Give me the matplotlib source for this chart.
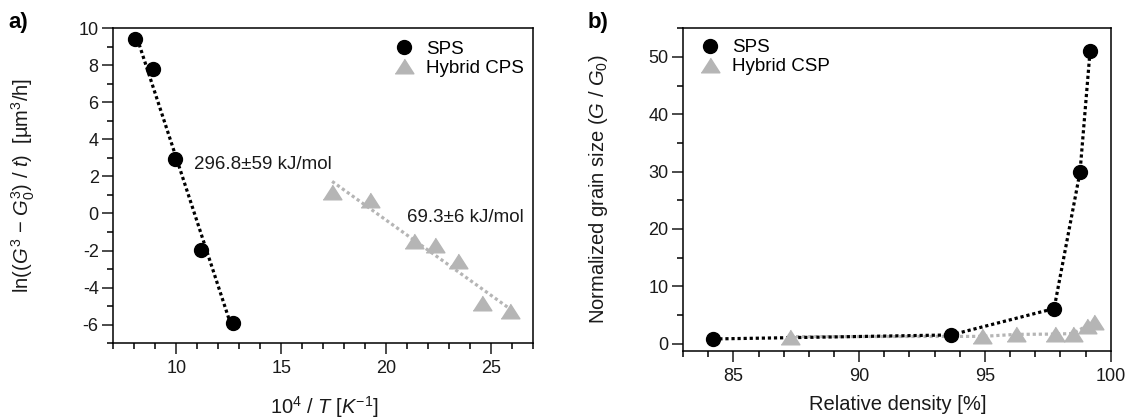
import numpy as np
import matplotlib
matplotlib.use("Agg")
import matplotlib.pyplot as plt
from matplotlib.ticker import MultipleLocator

plt.rcParams['font.family'] = ['Liberation Sans', 'DejaVu Sans']
plt.rcParams['mathtext.fontset'] = 'custom'
plt.rcParams['mathtext.rm'] = 'Liberation Sans'
plt.rcParams['mathtext.it'] = 'Liberation Sans:italic'
plt.rcParams['axes.linewidth'] = 1.1
plt.rcParams['axes.unicode_minus'] = False

# panel a: Arrhenius plot
sps_invT = [8.05, 8.90, 9.92, 11.19, 12.72]
sps_lnrate = [9.40, 7.80, 2.95, -1.98, -5.90]
cps_invT = [17.42, 19.22, 21.32, 22.30, 23.40, 24.55, 25.88]
cps_lnrate = [1.15, 0.70, -1.50, -1.68, -2.55, -4.85, -5.25]
ea_labels = ['296.8±59 kJ/mol', '69.3±6 kJ/mol']

# panel b: grain growth vs density
sps_dens = [84.2, 93.65, 97.75, 98.78, 99.18]
sps_grain = [0.8, 1.5, 6.1, 29.95, 51.1]
csp_dens = [87.25, 94.9, 96.25, 97.8, 98.5, 99.05, 99.35]
csp_grain = [1.2, 1.25, 1.6, 1.65, 1.75, 3.1, 3.7]

GREY = '#b5b5b5'
TXT = '#1a1a1a'
tri = [(-1, -0.78), (1, -0.78), (0, 0.78)]
dot = (0, (1.0, 0.9))

fig = plt.figure(figsize=(11.32, 4.2), dpi=100)
axa = fig.add_axes([0.1001, 0.1826, 0.3710, 0.7507])
axb = fig.add_axes([0.6034, 0.1643, 0.3778, 0.7683])

for ax in (axa, axb):
    ax.tick_params(which='major', direction='out', length=8, width=1.1,
                   labelsize=13, colors=TXT, pad=4)
    ax.tick_params(which='minor', direction='out', length=4, width=1.1)
    ax.tick_params(axis='y', which='major', pad=2.5)

# ---- a) ----
for xs, ys, col in [(sps_invT, sps_lnrate, 'black'), (cps_invT, cps_lnrate, GREY)]:
    k, b = np.polyfit(xs, ys, 1)
    xx = np.array([min(xs), max(xs)])
    axa.plot(xx, k * xx + b, color=col, lw=2.3, ls=dot, zorder=2)
axa.plot(sps_invT, sps_lnrate, 'o', color='black', ms=10, ls='none', label='SPS', zorder=3)
axa.plot(cps_invT, cps_lnrate, marker=tri, color=GREY, ms=13.5, ls='none',
         label='Hybrid CPS', zorder=3)
axa.text(10.86, 2.64, ea_labels[0], fontsize=13.5, va='center', color=TXT)
axa.text(20.97, -0.24, ea_labels[1], fontsize=13.5, va='center', color=TXT)
axa.set_xlim(7, 27)
axa.set_ylim(-7, 10)
axa.xaxis.set_major_locator(MultipleLocator(5))
axa.xaxis.set_minor_locator(MultipleLocator(1))
axa.yaxis.set_major_locator(MultipleLocator(2))
axa.yaxis.set_minor_locator(MultipleLocator(1))
axa.set_xlabel(r'10$^4$ / $T$ [$K^{-1}$]', fontsize=14.5, color=TXT)
axa.set_ylabel(r'ln(($G^3$ − $G_0^3$) / $t$)  [µm$^3$/h]', fontsize=14.5, color=TXT)
axa.xaxis.set_label_coords(0.502, -0.16)
axa.yaxis.set_label_coords(-0.182, 0.5)
axa.legend(loc='upper right', bbox_to_anchor=(1.0, 0.99), frameon=False, fontsize=13.5,
           handlelength=1.0, handletextpad=0.7, labelspacing=0.1, borderpad=0.4,
           borderaxespad=0.1)

# ---- b) ----
axb.plot(csp_dens, csp_grain, color=GREY, lw=2.3, ls=dot, zorder=2)
axb.plot(sps_dens, sps_grain, color='black', lw=2.3, ls=dot, zorder=2)
axb.plot(sps_dens, sps_grain, 'o', color='black', ms=10, ls='none', label='SPS', zorder=4)
axb.plot(csp_dens, csp_grain, marker=tri, color=GREY, ms=13.5, ls='none',
         label='Hybrid CSP', zorder=3)
axb.set_xlim(83, 100)
axb.set_ylim(-1.3, 55)
axb.xaxis.set_major_locator(MultipleLocator(5))
axb.xaxis.set_minor_locator(MultipleLocator(1))
axb.yaxis.set_major_locator(MultipleLocator(10))
axb.yaxis.set_minor_locator(MultipleLocator(5))
axb.set_xlabel('Relative density [%]', fontsize=14.5, color=TXT)
axb.set_ylabel(r'Normalized grain size ($G$ / $G_0$)', fontsize=14.5, color=TXT)
axb.xaxis.set_label_coords(0.501, -0.136)
axb.yaxis.set_label_coords(-0.171, 0.5)
axb.legend(loc='upper left', bbox_to_anchor=(0.023, 0.99), frameon=False, fontsize=13.5,
           handlelength=1.0, handletextpad=0.7, labelspacing=0.1, borderpad=0.4,
           borderaxespad=0.0)

fig.text(8 / 1132, 1 - 12 / 420, 'a)', fontsize=16, fontweight='bold', va='top')
fig.text(588 / 1132, 1 - 12 / 420, 'b)', fontsize=16, fontweight='bold', va='top')

fig.savefig('out.png', dpi=100)
